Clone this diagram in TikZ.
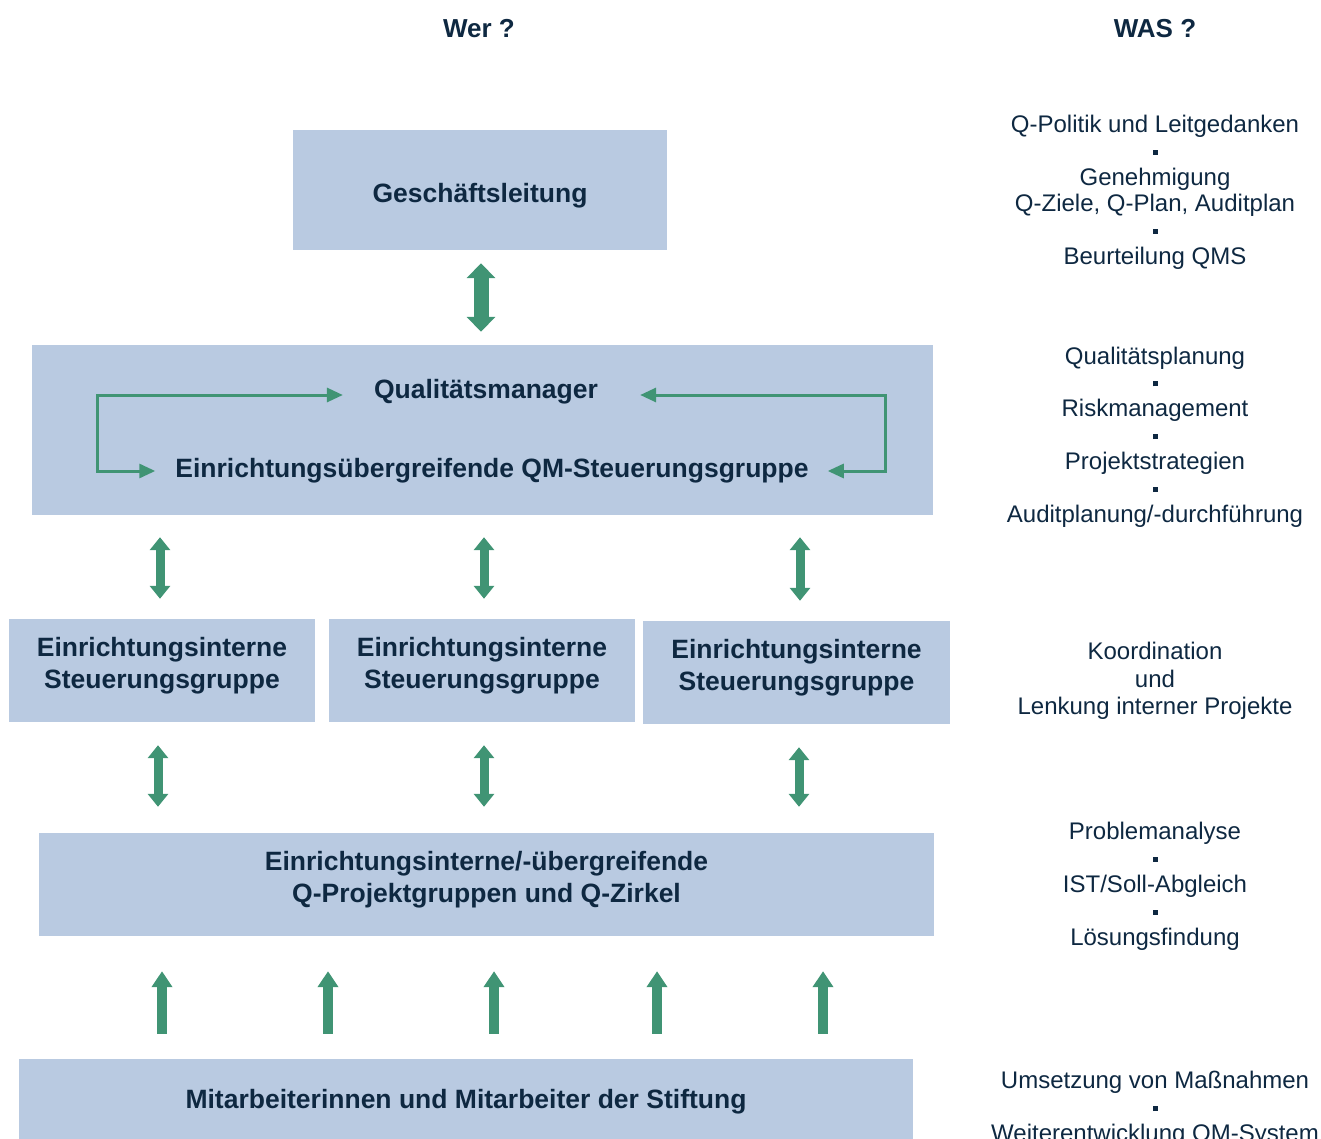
\documentclass[tikz,border=0pt]{standalone}
\usepackage{fontspec}
\setmainfont{Liberation Sans}
\usetikzlibrary{arrows.meta}
\definecolor{boxblue}{RGB}{185,202,225}
\definecolor{qmgreen}{RGB}{64,148,116}
\definecolor{navy}{RGB}{14,40,65}
\newcommand{\sq}{\rule[4pt]{5pt}{5pt}}

\begin{document}
\begin{tikzpicture}[x=1pt, y=-1pt,
  every node/.style={text=navy, align=center, inner sep=0pt},
  box/.style={fill=boxblue, font=\fontsize{26.5}{32}\selectfont\bfseries},
  heading/.style={font=\fontsize{26}{31}\selectfont\bfseries},
  wasline/.style={font=\fontsize{24}{26.4}\selectfont},
  bigarr/.style={qmgreen, line width=15pt, {Triangle[width=28pt,length=15pt]}-{Triangle[width=28pt,length=15pt]}},
  dblarr/.style={qmgreen, line width=9pt, {Triangle[width=20pt,length=13pt]}-{Triangle[width=20pt,length=13pt]}},
  uparr/.style={qmgreen, line width=10pt, -{Triangle[width=20pt,length=16pt]}},
  looparr/.style={qmgreen, line width=3pt, {Triangle[width=14pt,length=16pt]}-{Triangle[width=14pt,length=16pt]}}]
\clip (0,0) rectangle (1321,1139);

% Headings
\node[heading] (wer) at (479,29) {Wer ?};
\node[heading] (was) at (1155,29) {WAS ?};

% Boxes
\node[box, minimum width=374pt, minimum height=120pt, text height=31pt] (gl) at (480,190) {Geschäftsleitung};
\node[box, minimum width=901pt, minimum height=170pt] (qm) at (482.5,430) {};
\node[box] (qmtxt) at (486,392) {Qualitätsmanager};
\node[box] (steer) at (492,471) {Einrichtungsübergreifende QM-Steuerungsgruppe};
\node[box, minimum width=306pt, minimum height=103pt, text depth=16pt] (sg1) at (162,670.5) {Einrichtungsinterne\\Steuerungsgruppe};
\node[box, minimum width=306pt, minimum height=103pt, text depth=16pt] (sg2) at (482,670.5) {Einrichtungsinterne\\Steuerungsgruppe};
\node[box, minimum width=307pt, minimum height=103pt, text depth=16pt] (sg3) at (796.5,672.5) {Einrichtungsinterne\\Steuerungsgruppe};
\node[box, minimum width=895pt, minimum height=103pt, text depth=16pt] (pg) at (486.5,884.5) {Einrichtungsinterne/-übergreifende\\Q-Projektgruppen und Q-Zirkel};
\node[box, minimum width=894pt, minimum height=82pt, text height=23pt] (ma) at (466,1100) {Mitarbeiterinnen und Mitarbeiter der Stiftung};

% Loops inside the QM box
\draw[looparr] ([xshift=-31pt,yshift=-3pt]qmtxt.west) -| ([xshift=-78pt]steer.west) -- ([xshift=-20pt]steer.west);
\draw[looparr] ([xshift=42pt,yshift=-3pt]qmtxt.east) -| ([xshift=77pt]steer.east) -- ([xshift=19pt]steer.east);

% Arrows between the levels
\draw[bigarr, shorten <=13pt, shorten >=13pt] ([xshift=1pt]gl.south) -- ([xshift=1pt]gl.south |- qm.north);
\foreach \s/\d in {sg1/-2,sg2/2,sg3/3.5}
  \draw[dblarr, shorten <=22pt, shorten >=20pt] ([xshift=\d pt]\s.north |- qm.south) -- ([xshift=\d pt]\s.north);
\foreach \s/\d in {sg1/-4,sg2/2,sg3/2.5}
  \draw[dblarr, shorten <=23pt, shorten >=26pt] ([xshift=\d pt]\s.south) -- ([xshift=\d pt]\s.south |- pg.north);
\foreach \x in {162,328,494,657,823}
  \draw[uparr, shorten <=25pt, shorten >=35pt] (\x,0 |- ma.north) -- (\x,0 |- pg.south);

% WAS column
\node[wasline] (w1) at (1155,192) {Q-Politik und Leitgedanken\\\sq\\Genehmigung\\Q-Ziele, Q-Plan, Auditplan\\\sq\\Beurteilung QMS};
\node[wasline] (w2) at (1155,437) {Qualitätsplanung\\\sq\\Riskmanagement\\\sq\\Projektstrategien\\\sq\\Auditplanung/-durchführung};
\node[wasline, font=\fontsize{24}{27.5}\selectfont] (w3) at (1155,681) {Koordination\\und\\Lenkung interner Projekte};
\node[wasline] (w4) at (1155,886) {Problemanalyse\\\sq\\IST/Soll-Abgleich\\\sq\\Lösungsfindung};
\node[wasline] (w5) at (1155,1109) {Umsetzung von Maßnahmen\\\sq\\Weiterentwicklung QM-System};
\end{tikzpicture}
\end{document}
